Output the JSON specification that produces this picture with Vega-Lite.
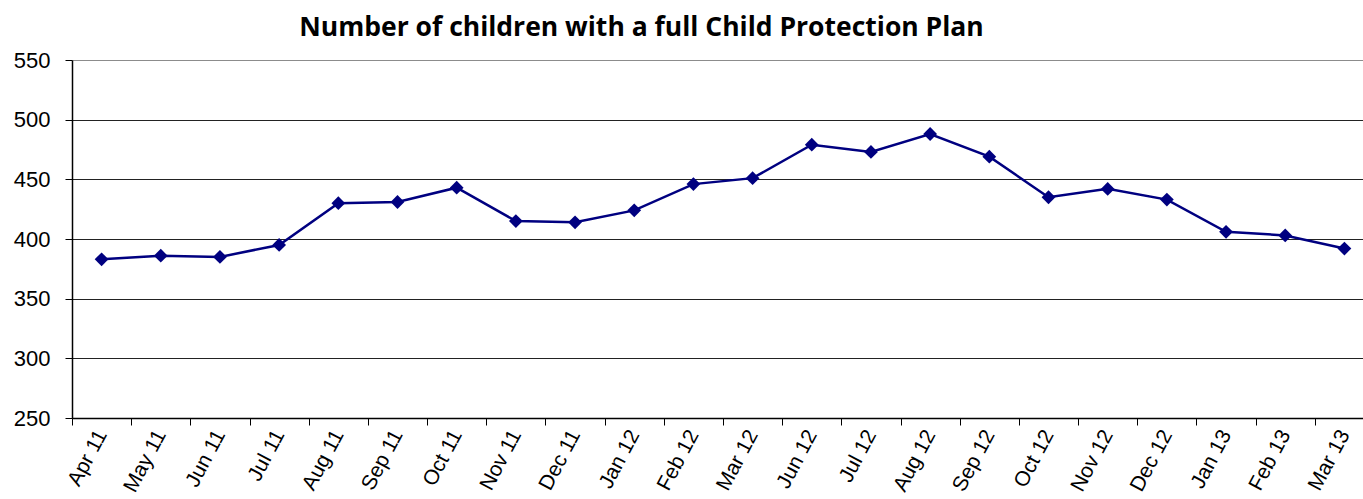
{
  "$schema": "https://vega.github.io/schema/vega-lite/v6.json",
  "autosize": "none",
  "padding": {"left": 72, "top": 60, "right": 0, "bottom": 81},
  "width": 1291,
  "height": 358,
  "background": "white",
  "title": {
    "text": "Number of children with a full Child Protection Plan",
    "font": "Open Sans",
    "fontSize": 26.5,
    "fontWeight": "bold",
    "color": "black",
    "anchor": "middle",
    "frame": "group",
    "dx": -76,
    "offset": 8
  },
  "data": {
    "values": [
      {"month": "Apr 11", "children": 383},
      {"month": "May 11", "children": 386},
      {"month": "Jun 11", "children": 385},
      {"month": "Jul 11", "children": 395},
      {"month": "Aug 11", "children": 430},
      {"month": "Sep 11", "children": 431},
      {"month": "Oct 11", "children": 443},
      {"month": "Nov 11", "children": 415},
      {"month": "Dec 11", "children": 414},
      {"month": "Jan 12", "children": 424},
      {"month": "Feb 12", "children": 446},
      {"month": "Mar 12", "children": 451},
      {"month": "Jun 12", "children": 479},
      {"month": "Jul 12", "children": 473},
      {"month": "Aug 12", "children": 488},
      {"month": "Sep 12", "children": 469},
      {"month": "Oct 12", "children": 435},
      {"month": "Nov 12", "children": 442},
      {"month": "Dec 12", "children": 433},
      {"month": "Jan 13", "children": 406},
      {"month": "Feb 13", "children": 403},
      {"month": "Mar 13", "children": 392}
    ]
  },
  "config": {
    "view": {"stroke": null},
    "axis": {"labelFont": "Liberation Sans", "labelColor": "black", "domainColor": "black", "tickColor": "black", "tickSize": 7, "domainWidth": 1.5}
  },
  "encoding": {
    "x": {
      "field": "month",
      "type": "nominal",
      "sort": null,
      "scale": {"type": "band", "paddingInner": 0, "paddingOuter": 0, "range": [0, 1302]},
      "axis": {
        "title": null,
        "labelAngle": -62,
        "labelAlign": "right",
        "labelBaseline": "middle",
        "labelFontSize": 21,
        "labelPadding": 6,
        "tickBand": "extent",
        "grid": false
      }
    },
    "y": {
      "field": "children",
      "type": "quantitative",
      "scale": {"domain": [250, 550], "nice": false, "zero": false},
      "axis": {
        "title": null,
        "values": [250, 300, 350, 400, 450, 500, 550],
        "labelFontSize": 22,
        "labelPadding": 15,
        "grid": true,
        "gridColor": {"condition": {"test": "datum.value == 550", "value": "#8c8c8c"}, "value": "#222222"},
        "gridWidth": 1.2
      }
    }
  },
  "layer": [
    {"mark": {"type": "line", "color": "#000080", "strokeWidth": 2.5}},
    {"mark": {"type": "point", "shape": "diamond", "filled": true, "opacity": 1, "color": "#000080", "size": 190}}
  ]
}
